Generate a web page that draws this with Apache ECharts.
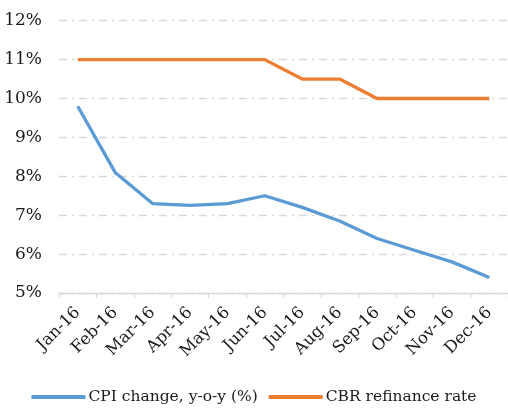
<!DOCTYPE html>
<html><head><meta charset="utf-8">
<script src="https://cdn.jsdelivr.net/npm/echarts@6/dist/echarts.min.js"></script>
<style>html,body{margin:0;padding:0;background:#fff}#c{width:508px;height:410px}</style>
</head><body><div id="c"></div>
<script>
var categories = ["Jan-16","Feb-16","Mar-16","Apr-16","May-16","Jun-16","Jul-16","Aug-16","Sep-16","Oct-16","Nov-16","Dec-16"];
var cpi = [9.8, 8.1, 7.3, 7.25, 7.3, 7.5, 7.2, 6.85, 6.4, 6.1, 5.8, 5.4];
var cbr = [11, 11, 11, 11, 11, 11, 10.5, 10.5, 10, 10, 10, 10];
var seriesNames = ["CPI change, y-o-y (%)", "CBR refinance rate"];
var font = "DejaVu Serif";
var chart = echarts.init(document.getElementById('c'));
chart.setOption({
  animation: false,
  grid: {left: 59, right: 0, top: 20.7, bottom: 117},
  legend: {
    top: 389, left: 'center', itemWidth: 54, itemHeight: 4, itemGap: 11, icon: 'rect',
    padding: 0,
    textStyle: {fontFamily: font, fontSize: 15.5, color: '#1a1a1a', padding: [0, 0, 0, -2]},
    data: seriesNames
  },
  xAxis: {
    type: 'category', data: categories, boundaryGap: true,
    axisLine: {lineStyle: {color: '#d9d9d9', width: 1.3}},
    axisTick: {show: true, length: 5, lineStyle: {color: '#d9d9d9', width: 1.3}},
    axisLabel: {rotate: 45, fontFamily: font, fontSize: 16.5, color: '#1a1a1a', margin: 17, interval: 0}
  },
  yAxis: {
    type: 'value', min: 5, max: 12, interval: 1,
    axisLine: {show: false}, axisTick: {show: false},
    axisLabel: {formatter: '{value}%', fontFamily: font, fontSize: 17, color: '#1a1a1a', margin: 17},
    splitLine: {lineStyle: {color: '#d9d9d9', width: 1.3, type: [8, 5, 2, 5]}}
  },
  series: [
    {name: seriesNames[0], type: 'line', data: cpi, symbol: 'none', lineStyle: {color: '#5b9bd5', width: 3.3}, itemStyle: {color: '#5b9bd5'}},
    {name: seriesNames[1], type: 'line', data: cbr, symbol: 'none', lineStyle: {color: '#ed7d31', width: 3.3}, itemStyle: {color: '#ed7d31'}}
  ]
});
</script></body></html>
